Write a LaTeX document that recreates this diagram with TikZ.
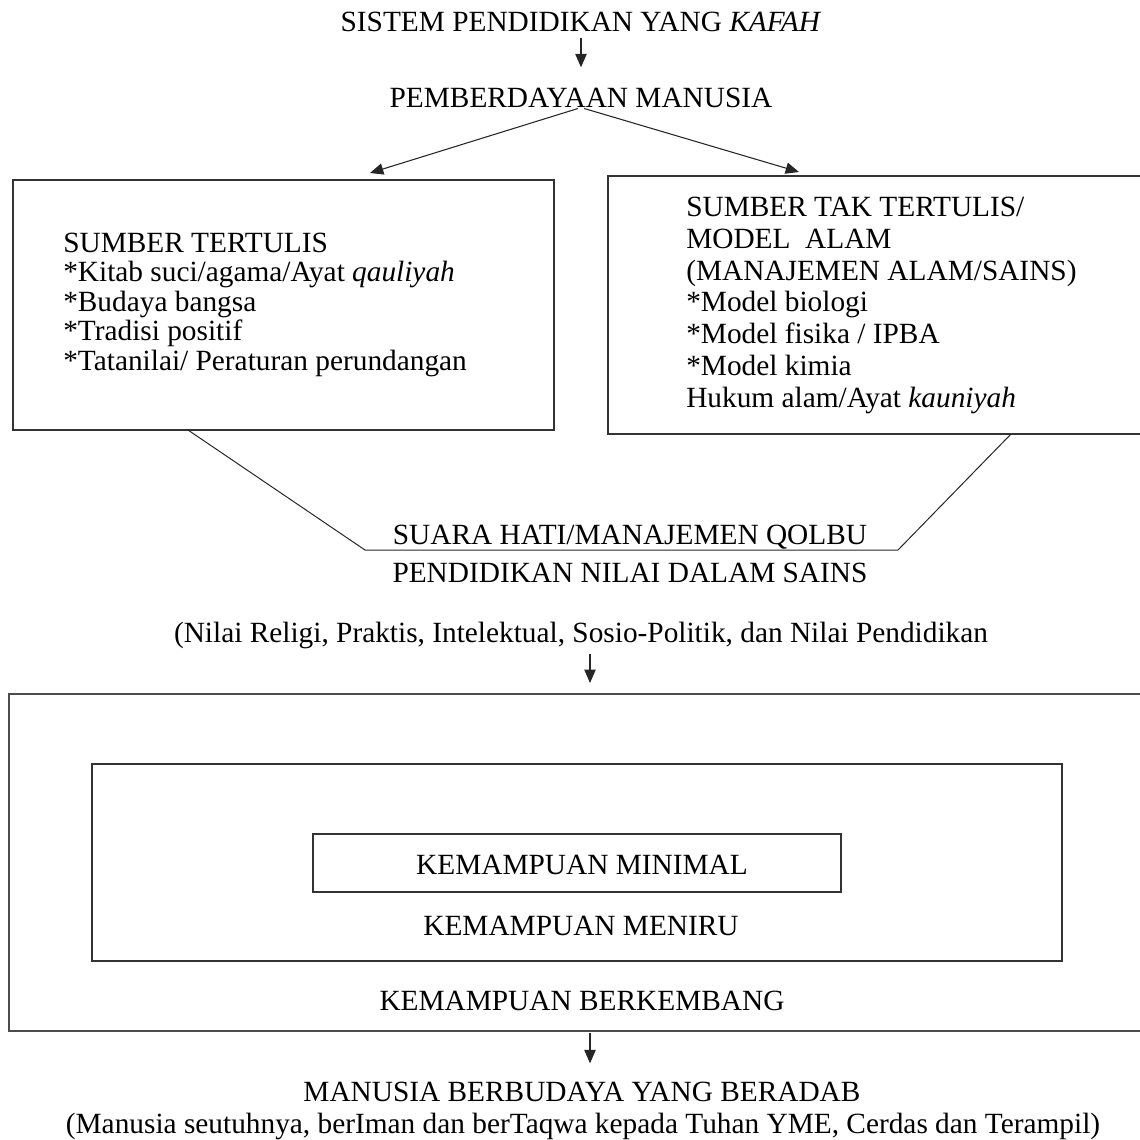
\documentclass[tikz,border=0pt]{standalone}
\usepackage{fontspec}
\setmainfont{Liberation Serif}
\usetikzlibrary{arrows.meta}

\tikzset{
	teks/.style={inner sep=0pt, anchor=base, font=\fontsize{22}{26}\selectfont},
	isi/.style={inner sep=0pt, anchor=north west, align=left},
	kotak/.style={draw=black!80, line width=0.9pt, inner sep=0pt},
	garis/.style={draw=black!85, line width=0.75pt},
	panah/.style={draw=black!85, line width=0.8pt, -{Triangle[length=10pt,width=8.5pt]}},
}

\begin{document}
\begin{tikzpicture}[x=0.75pt,y=0.75pt,yscale=-1,xscale=1]
		%set diagram 1140 x 1140
		\useasboundingbox (0,0) rectangle (1140,1140);
		
		\node [teks] (judul) at (581,31) {SISTEM PENDIDIKAN YANG \textit{KAFAH}};
		\node [teks] (berdaya) at (581,107) {PEMBERDAYAAN MANUSIA};
		
		%two source boxes
		\node [kotak, minimum width=405.75pt, minimum height=187.5pt] (tertulis) at (283.5,305) {};
		\node [kotak, minimum width=401.25pt, minimum height=193.5pt] (taktertulis) at (875.5,305) {};
		
		\node [isi, font=\fontsize{22}{22.1}\selectfont] (isitertulis) at (63,232.5) {SUMBER TERTULIS\\*Kitab suci/agama/Ayat \textit{qauliyah}\\*Budaya bangsa\\*Tradisi positif\\*Tatanilai/ Peraturan perundangan};
		\node [isi, font=\fontsize{22}{23.8}\selectfont] (isitaktertulis) at (686,197) {SUMBER TAK TERTULIS/\\MODEL\ \ ALAM\\(MANAJEMEN ALAM/SAINS)\\*Model biologi\\*Model fisika / IPBA\\*Model kimia\\Hukum alam/Ayat \textit{kauniyah}};
		
		\coordinate (kiri) at (370,173);
		\coordinate (kanan) at (799,172);
		
		%funnel under the boxes
		\coordinate (corongkiri) at (188,430);
		\coordinate (dasarkiri) at (365,550);
		\coordinate (dasarkanan) at (898,550);
		\coordinate (corongkanan) at (1011,434);
		
		\node [teks] (qolbu) at (630,544) {SUARA HATI/MANAJEMEN QOLBU};
		\node [teks] (nilaisains) at (630,582) {PENDIDIKAN NILAI DALAM SAINS};
		\node [teks] (nilai) at (581,642) {(Nilai Religi, Praktis, Intelektual, Sosio-Politik, dan Nilai Pendidikan};
		
		%nested boxes
		\node [kotak, line width=1.2pt, draw=black!70, minimum width=850.5pt, minimum height=252.75pt] (berkembang) at (576,862.5) {};
		\node [kotak, minimum width=727.5pt, minimum height=147.75pt] (meniru) at (577,862.5) {};
		\node [kotak, minimum width=396pt, minimum height=43.5pt] (minimal) at (577,863) {};
		
		\node [teks] (tminimal) at (582,874) {KEMAMPUAN MINIMAL};
		\node [teks] (tmeniru) at (581,935) {KEMAMPUAN MENIRU};
		\node [teks] (tberkembang) at (582,1010) {KEMAMPUAN BERKEMBANG};
		
		\coordinate (masuk) at (590,683);
		\coordinate (keluar) at (590,1031);
		
		\node [teks] (beradab) at (582,1101) {MANUSIA BERBUDAYA YANG BERADAB};
		\node [teks] (seutuhnya) at (583,1133) {(Manusia seutuhnya, berIman dan berTaqwa kepada Tuhan YME, Cerdas dan Terampil)};
		
		\draw [panah, shorten <=5pt, shorten >=15pt] (judul) -- (berdaya);
		\draw [panah, shorten <=2.5pt] (berdaya.south) -- (kiri);
		\draw [panah, shorten <=2.5pt] (berdaya.south) -- (kanan);
		\draw [garis] (corongkiri) -- (dasarkiri) -- (dasarkanan) -- (corongkanan);
		\draw [panah, shorten <=3.75pt] (nilai.south -| masuk) -- (masuk);
		\draw [panah, shorten <=1.5pt, shorten >=13.5pt] (keluar) -- (beradab.north -| keluar);
		
		\end{tikzpicture}
\end{document}
